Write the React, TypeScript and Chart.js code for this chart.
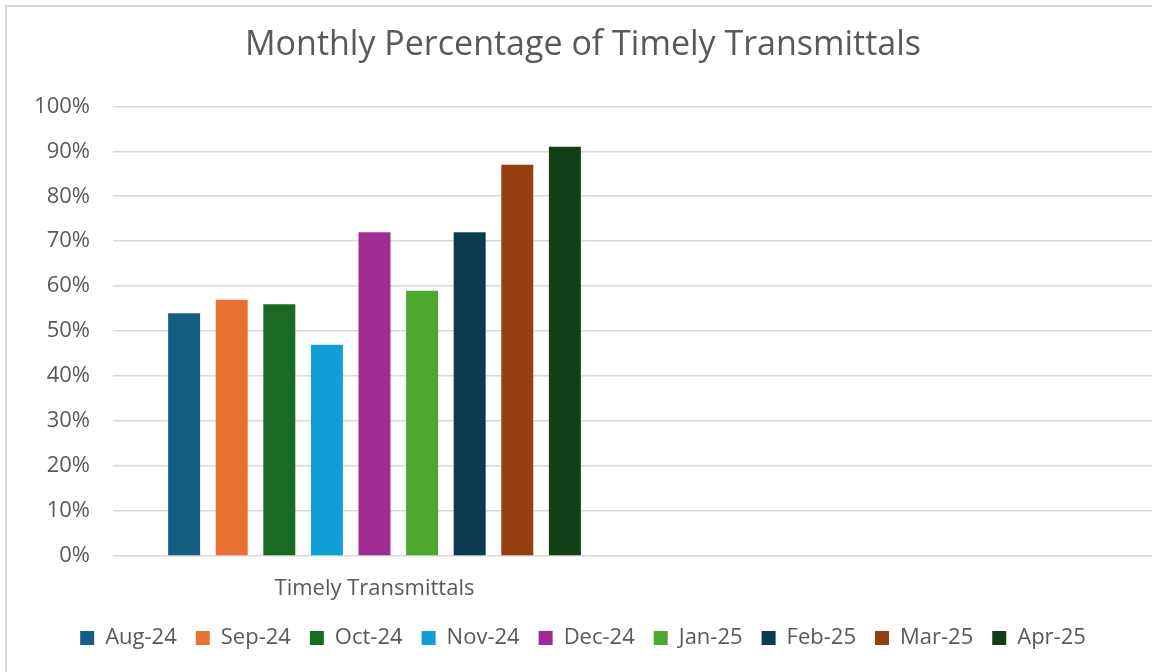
import React, { useEffect, useRef } from "react";
import { Chart, registerables } from "chart.js";

Chart.register(...registerables);

const categories: string[] = ["Timely Transmittals", ""];
const months: string[] = ["Aug-24", "Sep-24", "Oct-24", "Nov-24", "Dec-24", "Jan-25", "Feb-25", "Mar-25", "Apr-25"];
const values: number[] = [54, 57, 56, 47, 72, 59, 72, 87, 91];
const colors: string[] = ["#156082", "#E97132", "#196B24", "#0F9ED5", "#A02B93", "#4EA72E", "#0D3A50", "#973F10", "#113F18"];
const yTicks: number[] = [0, 10, 20, 30, 40, 50, 60, 70, 80, 90, 100];

const TEXT = "#595959";
const FONT = "'Open Sans', 'Liberation Sans', sans-serif";

export default function App() {
  const ref = useRef<HTMLCanvasElement | null>(null);

  useEffect(() => {
    if (!ref.current) return;
    const chart = new Chart(ref.current, {
      type: "bar",
      data: {
        labels: categories,
        datasets: months.map((m, i) => ({
          label: m,
          data: [values[i], null],
          backgroundColor: colors[i],
          borderWidth: 0,
          categoryPercentage: 0.819,
          barPercentage: 0.672,
        })),
      },
      options: {
        responsive: false,
        animation: false,
        layout: { padding: { left: 0, right: 0, top: 0, bottom: 13 } },
        plugins: {
          tooltip: { enabled: false },
          title: {
            display: true,
            text: "Monthly Percentage of Timely Transmittals",
            color: TEXT,
            font: { family: FONT, size: 34, weight: "normal", lineHeight: 1.2 },
            padding: { top: 18, bottom: 40.5 },
          },
          legend: {
            position: "bottom",
            labels: {
              color: TEXT,
              font: { family: FONT, size: 22 },
              boxWidth: 14,
              boxHeight: 14,
              padding: 19,
            },
          },
        },
        scales: {
          x: {
            grid: { display: false, drawTicks: false },
            border: { display: false },
            ticks: {
              color: TEXT,
              font: { family: FONT, size: 22 },
              padding: 20,
            },
            afterFit: (s: any) => {
              s.height = 52;
            },
          },
          y: {
            min: 0,
            max: 100,
            afterBuildTicks: (s: any) => {
              s.ticks = yTicks.map((v) => ({ value: v }));
            },
            grid: { color: "#d9d9d9", lineWidth: 1.5, drawTicks: false },
            border: { display: false },
            ticks: {
              color: TEXT,
              font: { family: FONT, size: 22 },
              padding: 23,
              callback: (v: any) => v + "%",
            },
            afterFit: (s: any) => {
              s.width = 106;
            },
          },
        },
      },
    });
    return () => chart.destroy();
  }, []);

  return (
    <div style={{ position: "fixed", left: 0, top: 0, width: 1152, height: 672, overflow: "hidden", background: "#fff" }}>
      <div
        style={{
          position: "absolute",
          left: 5,
          top: 5,
          width: 1200,
          height: 720,
          borderLeft: "2px solid #d9d9d9",
          borderTop: "2px solid #d9d9d9",
        }}
      />
      <canvas ref={ref} width={1152} height={665} style={{ position: "absolute", left: 7, top: 7, width: 1152, height: 665 }} />
    </div>
  );
}
